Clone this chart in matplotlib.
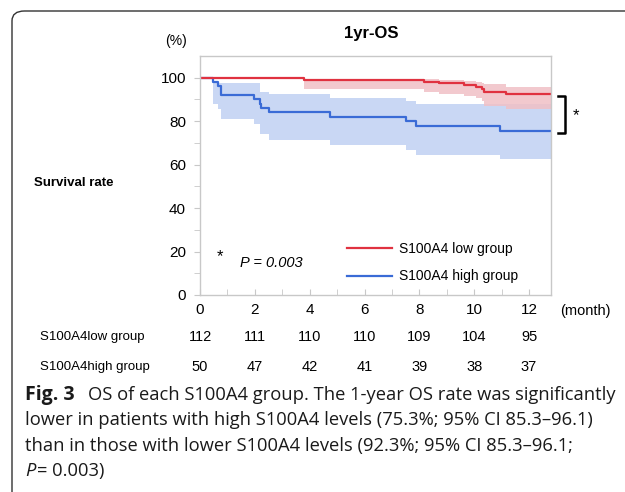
import numpy as np
import matplotlib.pyplot as plt
from matplotlib.patches import FancyBboxPatch
from matplotlib.lines import Line2D

# Kaplan-Meier steps, S100A4 low group (months, % surviving, 95% CI)
low_t = [0, 3.78, 8.18, 8.73, 9.64, 10.06, 10.28, 10.36, 11.15, 12.8]
low_s = [100, 99.1, 98.2, 97.4, 96.6, 95.7, 94.8, 93.3, 92.3, 92.3]
low_lo = [100, 94.6, 93.5, 92.3, 91.5, 90.6, 89.2, 86.9, 85.4, 85.4]
low_hi = [100, 99.6, 99.3, 99.0, 98.5, 98.1, 97.6, 97.0, 95.8, 95.8]

# S100A4 high group
high_t = [0, 0.46, 0.67, 0.75, 1.98, 2.18, 2.24, 2.5, 4.73, 7.5, 7.88, 10.95, 12.8]
high_s = [100, 98, 96, 92, 90, 88, 86, 84, 82, 80, 78, 75.3, 75.3]
high_lo = [100, 88, 85.4, 80.8, 78.5, 74, 74, 71.5, 69.2, 66.9, 64.6, 62.6, 62.6]
high_hi = [100, 97.5, 97.4, 97.4, 97.4, 93.5, 93.5, 92.3, 90.8, 89.2, 87.7, 87.7, 87.7]

# numbers at risk
risk_months = [0, 2, 4, 6, 8, 10, 12]
risk_low = [112, 111, 110, 110, 109, 104, 95]
risk_high = [50, 47, 42, 41, 39, 38, 37]

RED = '#e03240'
BLUE = '#3a6bd6'
W, H = 625, 492

fig = plt.figure(figsize=(W / 100, H / 100), dpi=100)
plt.rcParams['font.family'] = ['Liberation Sans', 'DejaVu Sans']


def px(x, y):
    return x / W, 1 - y / H


# rounded frame round the figure panel
frame = FancyBboxPatch((12 / W, 1 - 520 / H), (W + 40) / W, 509 / H,
                       boxstyle='round,pad=0,rounding_size=0.02',
                       transform=fig.transFigure, fill=False,
                       edgecolor='#333333', linewidth=1.0)
fig.patches.append(frame)

ax = fig.add_axes([200 / W, 1 - 295 / H, 351 / W, 239 / H])

ax.fill_between(high_t, high_lo, high_hi, step='post', color='#c9d7f4', lw=0)
ax.fill_between(low_t, low_lo, low_hi, step='post', color='#f0c0c6', lw=0, alpha=0.85)
ax.step(high_t, high_s, where='post', color=BLUE, lw=1.6)
ax.step(low_t, low_s, where='post', color=RED, lw=1.6)

ax.set_xlim(0, 12.8)
ax.set_ylim(0, 110)
ax.set_xticks(risk_months)
ax.set_xticks(np.arange(0, 13, 1), minor=True)
ax.set_yticks(np.arange(0, 101, 20))
ax.set_yticks(np.arange(0, 101, 10), minor=True)
for s in ax.spines.values():
    s.set_color('#c8c8c8')
    s.set_linewidth(1.0)
ax.tick_params(axis='x', which='both', direction='in', length=4, color='#c8c8c8',
               labelsize=11, pad=6)
ax.tick_params(axis='y', which='both', direction='out', length=4, color='#c8c8c8',
               labelsize=11, pad=6)

# legend
leg_lines = [Line2D([], [], color=RED, lw=1.6), Line2D([], [], color=BLUE, lw=1.6)]
ax.legend(leg_lines, ['S100A4 low group', 'S100A4 high group'],
          loc='lower left', bbox_to_anchor=((341 - 200) / 351, (295 - 289) / 239),
          frameon=False, fontsize=10, handlelength=3.3, handletextpad=0.5,
          labelspacing=0.95, borderaxespad=0)

fig.text(*px(220, 257), '*', fontsize=12, ha='center', va='center')
fig.text(*px(240, 263), 'P = 0.003', fontsize=10.5, style='italic', va='center')

# titles and axis captions
fig.text(*px(371, 33), '1yr-OS', fontsize=12, weight='bold', ha='center', va='center')
fig.text(*px(176, 41), '(%)', fontsize=10, ha='center', va='center')
fig.text(*px(34, 183), 'Survival rate', fontsize=9.5, weight='bold', va='center')
fig.text(*px(560, 311), '(month)', fontsize=10.5, va='center')

# significance bracket
bx0, bx1, by0, by1 = 558, 565, 96, 133
fig.add_artist(Line2D([bx0 / W, bx1 / W, bx1 / W, bx0 / W],
                      [1 - by0 / H, 1 - by0 / H, 1 - by1 / H, 1 - by1 / H],
                      color='black', lw=1.8, transform=fig.transFigure))
fig.text(*px(576, 116), '*', fontsize=12, ha='center', va='center')

# numbers at risk
xform = ax.get_xaxis_transform()
fig.text(*px(40, 337), 'S100A4low group', fontsize=9.5, va='center')
fig.text(*px(40, 367), 'S100A4high group', fontsize=9.5, va='center')
for m, a, b in zip(risk_months, risk_low, risk_high):
    ax.text(m, -(337 - 295) / 239, str(a), transform=xform,
            ha='center', va='center', fontsize=10.5, clip_on=False)
    ax.text(m, -(367 - 295) / 239, str(b), transform=xform,
            ha='center', va='center', fontsize=10.5, clip_on=False)

# figure caption
cap_font = ['Open Sans', 'DejaVu Sans']
cap = dict(fontsize=13.2, family=cap_font, va='center', color='#1a1a1a')
fig.text(*px(25, 395), 'Fig. 3', weight='bold', fontsize=14, family=cap_font,
         va='center', color='#1a1a1a')
fig.text(*px(88, 395), 'OS of each S100A4 group. The 1-year OS rate was significantly', **cap)
fig.text(*px(25, 420), 'lower in patients with high S100A4 levels (75.3%; 95% CI 85.3–96.1)', **cap)
fig.text(*px(25, 446), 'than in those with lower S100A4 levels (92.3%; 95% CI 85.3–96.1;', **cap)
fig.text(*px(25, 471), 'P', style='italic', **cap)
fig.text(*px(37, 471), '= 0.003)', **cap)

fig.savefig('out.png', dpi=100)
